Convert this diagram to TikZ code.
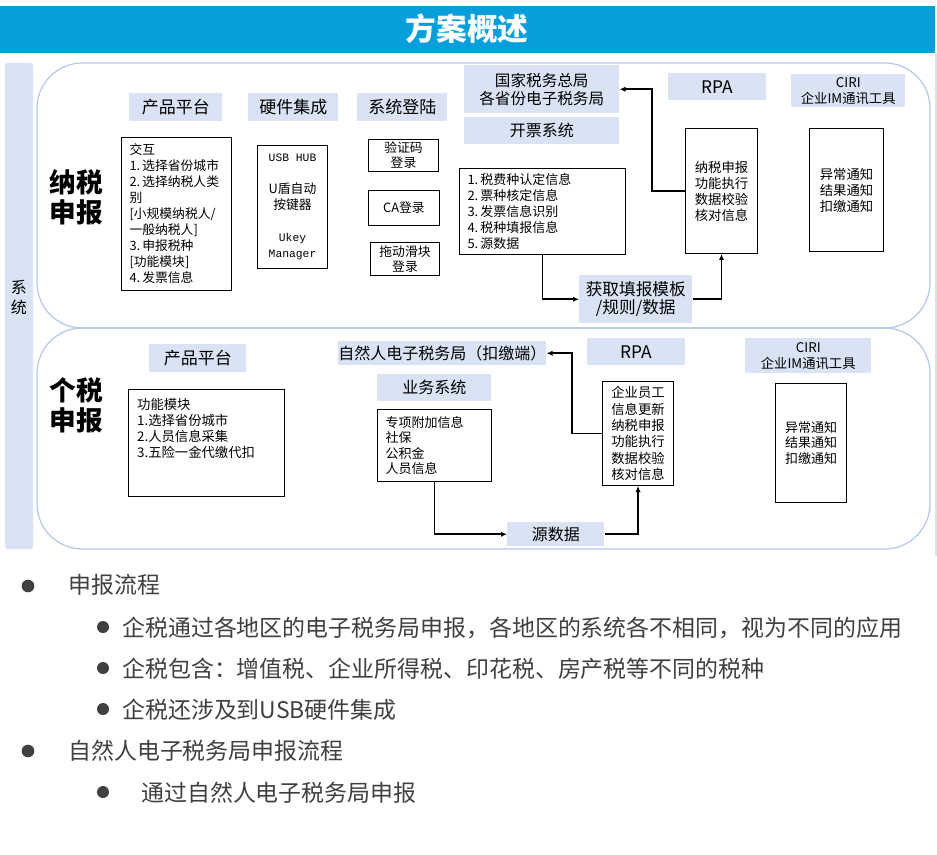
\documentclass[tikz,border=0pt]{standalone}
\usepackage{fontspec}
\setmainfont{Noto Sans CJK SC}
\newfontfamily\monof{Liberation Mono}
\usetikzlibrary{arrows.meta}
\definecolor{hdrc}{HTML}{079FDB}
\definecolor{lblc}{HTML}{DAE3F3}
\definecolor{framec}{HTML}{B4C7E7}
\definecolor{txtc}{HTML}{404040}
\tikzset{
  sz/.style 2 args={minimum width=#1*0.75pt, minimum height=#2*0.75pt},
  lbl/.style={fill=lblc, inner sep=0pt, align=center, anchor=north west, font=\fontsize{12.75}{15}\selectfont},
  bx/.style={draw=black, line width=0.75pt, fill=white, inner sep=0pt, align=center, anchor=north west, font=\fontsize{10}{12}\selectfont},
  bxl/.style={bx, align=left, inner xsep=6pt},
  arr/.style={line width=1.2pt, -{Latex[length=4.5pt,width=4pt]}},
  big/.style={font=\fontsize{20}{22.5}\selectfont\bfseries, align=center, inner sep=0pt},
  item/.style={anchor=west, inner sep=0pt, text=txtc, font=\fontsize{17.2}{18}\selectfont},
  bulA/.style={circle, fill=txtc, inner sep=0pt, minimum size=9.5pt},
  bulB/.style={circle, fill=txtc, inner sep=0pt, minimum size=9pt},
}
\begin{document}
\begin{tikzpicture}[x=0.75pt,y=-0.75pt]
\fill[white] (0,0) rectangle (937,855);
\useasboundingbox (0,0) rectangle (937,855);
% header
\fill[hdrc] (0,6) rectangle (935,53);
\node[font=\fontsize{23}{25}\selectfont\bfseries, text=white, inner sep=0pt] (title) at (467,29) {方案概述};
\draw[black!12, line width=2pt] (936,53) -- (936,556);
% left bar
\fill[lblc, rounded corners=2pt] (5,63) rectangle (33,549);
\node[align=center, inner sep=0pt, font=\fontsize{12}{15}\selectfont] (sys) at (19,297) {系\\统};
% frames
\draw[framec, line width=0.9pt, rounded corners=34pt] (37,63) rectangle (930,328);
\draw[framec, line width=0.9pt, rounded corners=34pt] (37,328) rectangle (930,549);
\node[big] (nssb) at (76,197) {纳税\\申报};
\node[big] (gssb) at (76,405) {个税\\申报};
% top section labels
\node[lbl, sz={93}{28}] (prod1) at (129,93) {产品平台};
\node[lbl, sz={90}{28}] (hw) at (248,93) {硬件集成};
\node[lbl, sz={90}{28}] (login) at (357,93) {系统登陆};
\node[lbl, sz={155}{48}, font=\fontsize{11.7}{13.5}\selectfont] (gov) at (464,65) {国家税务总局\\各省份电子税务局};
\node[lbl, sz={155}{27}, font=\fontsize{12}{14}\selectfont] (inv) at (464,117) {开票系统};
\node[lbl, sz={98}{27}, font=\fontsize{13}{15}\selectfont] (rpa1) at (668,73) {RPA};
\node[lbl, sz={114}{33}, font=\fontsize{10}{12}\selectfont] (ciri1) at (791,74) {CIRI\\企业IM通讯工具};
\node[lbl, sz={113}{48}, font=\fontsize{12.5}{13.5}\selectfont] (fetch) at (579,275) {获取填报模板\\/规则/数据};
% top section boxes
\node[bxl, sz={110}{153}, text width=70.5pt, font=\fontsize{9.6}{12}\selectfont] (jh) at (121,137) {交互\\1.\,选择省份城市\\2.\,选择纳税人类\\别\\{[}小规模纳税人/\\一般纳税人{]}\\3.\,申报税种\\{[}功能模块{]}\\4.\,发票信息};
\node[bx, sz={70}{123}, font=\fontsize{9.6}{12}\selectfont] (usb) at (257,145) {{\monof\fontsize{8.5}{12}\selectfont USB HUB}\\[12pt]U盾自动\\按键器\\[12pt]{\monof\fontsize{8.5}{12}\selectfont Ukey}\\{\monof\fontsize{8.5}{12}\selectfont Manager}};
\node[bx, sz={70}{32}, font=\fontsize{9.6}{11.25}\selectfont] (yzm) at (368,139) {验证码\\登录};
\node[bx, sz={71}{35}, font=\fontsize{9.6}{12}\selectfont] (ca) at (368,190) {CA登录};
\node[bx, sz={69}{33}, font=\fontsize{9.6}{11.25}\selectfont] (tdhk) at (370,242) {拖动滑块\\登录};
\node[bxl, sz={166}{86}, text width=112.5pt, font=\fontsize{9.75}{12}\selectfont] (taxinfo) at (459,168) {1.\,税费种认定信息\\2.\,票种核定信息\\3.\,发票信息识别\\4.\,税种填报信息\\5.\,源数据};
\node[bx, sz={72}{125}] (rpabox) at (685,128) {纳税申报\\功能执行\\数据校验\\核对信息};
\node[bx, sz={74}{123}] (ciribox) at (809,128) {异常通知\\结果通知\\扣缴通知};
% top connectors
\draw[arr] (taxinfo.south) |- (fetch.west);
\draw[arr] (fetch.east) -| (rpabox.south);
\draw[arr] (rpabox.west) -- ++(-33,0) |- (gov.east);
% bottom section labels
\node[lbl, sz={97}{28}] (prod2) at (149,344) {产品平台};
\node[lbl, sz={204}{24}, font=\fontsize{12}{14}\selectfont] (nat) at (338,341) {自然人电子税务局（扣缴端）};
\node[lbl, sz={114}{27}, font=\fontsize{12}{14}\selectfont] (biz) at (377,374) {业务系统};
\node[lbl, sz={98}{27}, font=\fontsize{13}{15}\selectfont] (rpa2) at (587,338) {RPA};
\node[lbl, sz={126}{35}, font=\fontsize{10}{12}\selectfont] (ciri2) at (745,338) {CIRI\\企业IM通讯工具};
\node[lbl, sz={97}{24}, font=\fontsize{12}{14}\selectfont] (src) at (507,522) {源数据};
% bottom section boxes
\node[bxl, sz={156}{107}, text width=104pt, font=\fontsize{10}{12}\selectfont] (gn) at (128,389) {功能模块\\1.选择省份城市\\2.人员信息采集\\3.五险一金代缴代扣\\[10pt]\mbox{}};
\node[bxl, sz={114}{72}, text width=73.5pt, font=\fontsize{9.75}{11.7}\selectfont] (zx) at (377,409) {专项附加信息\\社保\\公积金\\人员信息};
\node[bx, sz={71}{104}, font=\fontsize{10}{12.2}\selectfont] (rpab) at (602,381) {企业员工\\信息更新\\纳税申报\\功能执行\\数据校验\\核对信息};
\node[bx, sz={71}{119}, font=\fontsize{9.75}{11.7}\selectfont] (ciribox2) at (775,383) {异常通知\\结果通知\\扣缴通知};
% bottom connectors
\draw[arr] (zx.south) |- (src.west);
\draw[arr] (src.east) -| (rpab.south);
\draw[arr] (rpab.west) -- ++(-30,0) |- (nat.east);
% bullet list
\node[bulA] (b1) at (28,586) {};
\node[item] (t1) at (68,585) {申报流程};
\node[bulB] (b2) at (103,627) {};
\node[item] (t2) at (122,628) {企税通过各地区的电子税务局申报，各地区的系统各不相同，视为不同的应用};
\node[bulB] (b3) at (103,668) {};
\node[item] (t3) at (122,669) {企税包含：增值税、企业所得税、印花税、房产税等不同的税种};
\node[bulB] (b4) at (103,709) {};
\node[item] (t4) at (122,710) {企税还涉及到USB硬件集成};
\node[bulA] (b5) at (28,751) {};
\node[item] (t5) at (68,751) {自然人电子税务局申报流程};
\node[bulB] (b6) at (103,792) {};
\node[item] (t6) at (141,793) {通过自然人电子税务局申报};
\end{tikzpicture}
\end{document}
